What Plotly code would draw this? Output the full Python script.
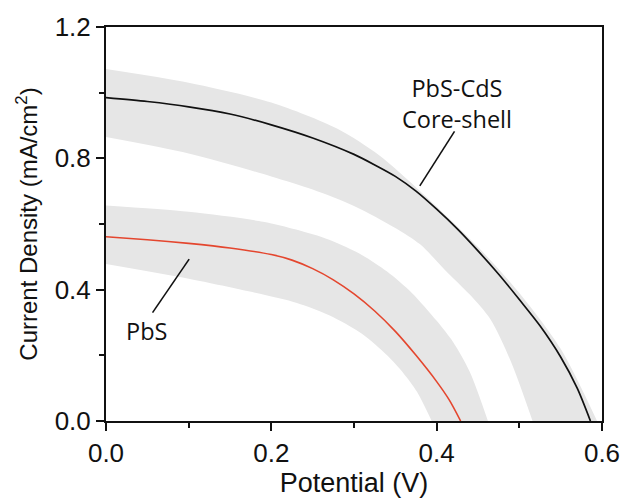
import plotly.graph_objects as go

# J-V curves (potential in V, current density in mA/cm2)
core_shell_v = [0, 0.05, 0.1, 0.15, 0.2, 0.25, 0.3, 0.325, 0.35, 0.375, 0.4, 0.425, 0.45, 0.475, 0.5, 0.525, 0.55, 0.57, 0.586]
core_shell_j = [0.985, 0.973, 0.957, 0.935, 0.902, 0.862, 0.812, 0.78, 0.745, 0.70, 0.645, 0.585, 0.518, 0.447, 0.37, 0.29, 0.195, 0.10, 0.0]

pbs_v = [0, 0.05, 0.1, 0.15, 0.2, 0.225, 0.25, 0.275, 0.3, 0.325, 0.35, 0.375, 0.4, 0.415, 0.429]
pbs_j = [0.561, 0.552, 0.541, 0.527, 0.507, 0.49, 0.464, 0.43, 0.387, 0.335, 0.273, 0.20, 0.12, 0.065, 0.0]

# spread envelopes (upper / lower edges)
core_shell_hi_v = [0, 0.1, 0.2, 0.28, 0.33, 0.38, 0.45, 0.5, 0.55, 0.594]
core_shell_hi_j = [1.072, 1.03, 0.97, 0.89, 0.81, 0.70, 0.53, 0.39, 0.22, 0.0]
core_shell_lo_v = [0, 0.1, 0.2, 0.25, 0.3, 0.35, 0.38, 0.41, 0.44, 0.465, 0.49, 0.516]
core_shell_lo_j = [0.865, 0.815, 0.745, 0.705, 0.655, 0.588, 0.538, 0.46, 0.385, 0.31, 0.18, 0.0]

pbs_hi_v = [0, 0.1, 0.19, 0.23, 0.27, 0.31, 0.34, 0.37, 0.4, 0.42, 0.44, 0.462]
pbs_hi_j = [0.656, 0.637, 0.607, 0.583, 0.552, 0.505, 0.455, 0.39, 0.305, 0.24, 0.15, 0.0]
pbs_lo_v = [0, 0.1, 0.19, 0.23, 0.27, 0.31, 0.34, 0.36, 0.376, 0.394]
pbs_lo_j = [0.478, 0.433, 0.385, 0.36, 0.322, 0.265, 0.20, 0.145, 0.09, 0.0]

x_ticks = [0.0, 0.2, 0.4, 0.6]
y_ticks = [0.0, 0.4, 0.8, 1.2]

BAND = "#e6e6e6"
INK = "#111111"
FONT = "Liberation Sans, Arial, sans-serif"
LABEL_FONT = "Open Sans, sans-serif"

fig = go.Figure()

# shaded envelopes: lower edge first, then the upper edge filled down to it
for hv, hj, lv, lj in [
    (core_shell_hi_v, core_shell_hi_j, core_shell_lo_v, core_shell_lo_j),
    (pbs_hi_v, pbs_hi_j, pbs_lo_v, pbs_lo_j),
]:
    fig.add_trace(go.Scatter(x=lv, y=lj, mode="lines",
                             line=dict(width=0, color=BAND, shape="spline", smoothing=0.8),
                             hoverinfo="skip", showlegend=False))
    fig.add_trace(go.Scatter(x=hv, y=hj, mode="lines", fill="tonexty", fillcolor=BAND,
                             line=dict(width=0, color=BAND, shape="spline", smoothing=0.8),
                             hoverinfo="skip", showlegend=False))

fig.add_trace(go.Scatter(x=core_shell_v, y=core_shell_j, mode="lines",
                         line=dict(color=INK, width=1.7, shape="spline", smoothing=0.8),
                         name="PbS-CdS Core-shell", showlegend=False))
fig.add_trace(go.Scatter(x=pbs_v, y=pbs_j, mode="lines",
                         line=dict(color="#e4462e", width=1.6, shape="spline", smoothing=0.8),
                         name="PbS", showlegend=False))

# labels with leader lines
labels = [
    dict(text="PbS-CdS<br>Core-shell", x=0.424, y=0.968, lx=[0.4216, 0.3796], ly=[0.882, 0.716]),
    dict(text="PbS", x=0.049, y=0.273, lx=[0.1006, 0.0563], ly=[0.493, 0.330]),
]
for lab in labels:
    fig.add_annotation(x=lab["x"], y=lab["y"], text=lab["text"], showarrow=False,
                       xanchor="center", yanchor="middle",
                       font=dict(family=LABEL_FONT, size=23.5, color=INK))
    fig.add_shape(type="line", x0=lab["lx"][0], y0=lab["ly"][0], x1=lab["lx"][1], y1=lab["ly"][1],
                  line=dict(color=INK, width=1.6))

axis_common = dict(
    showline=True, linecolor=INK, linewidth=2, mirror=True,
    ticks="outside", ticklen=8, tickwidth=2, tickcolor=INK,
    showgrid=False, zeroline=False,
    tickfont=dict(family=FONT, size=26, color=INK),
    tickformat=".1f",
)

fig.update_xaxes(range=[0, 0.6], tickvals=x_ticks,
                 minor=dict(ticks="outside", ticklen=5, tickwidth=2, tickcolor=INK, dtick=0.1, showgrid=False),
                 title=dict(text="Potential (V)", font=dict(family=FONT, size=27, color=INK), standoff=5),
                 **axis_common)
fig.update_yaxes(range=[0, 1.2], tickvals=y_ticks,
                 minor=dict(ticks="outside", ticklen=5, tickwidth=2, tickcolor=INK, dtick=0.2, showgrid=False),
                 title=dict(text="Current Density (mA/cm<sup>2</sup>)", font=dict(family=FONT, size=24, color=INK), standoff=10),
                 **axis_common)

fig.update_layout(
    width=632, height=504,
    margin=dict(l=106, r=24, t=25, b=75),
    plot_bgcolor="white", paper_bgcolor="white",
)

fig.write_html("out.html")
